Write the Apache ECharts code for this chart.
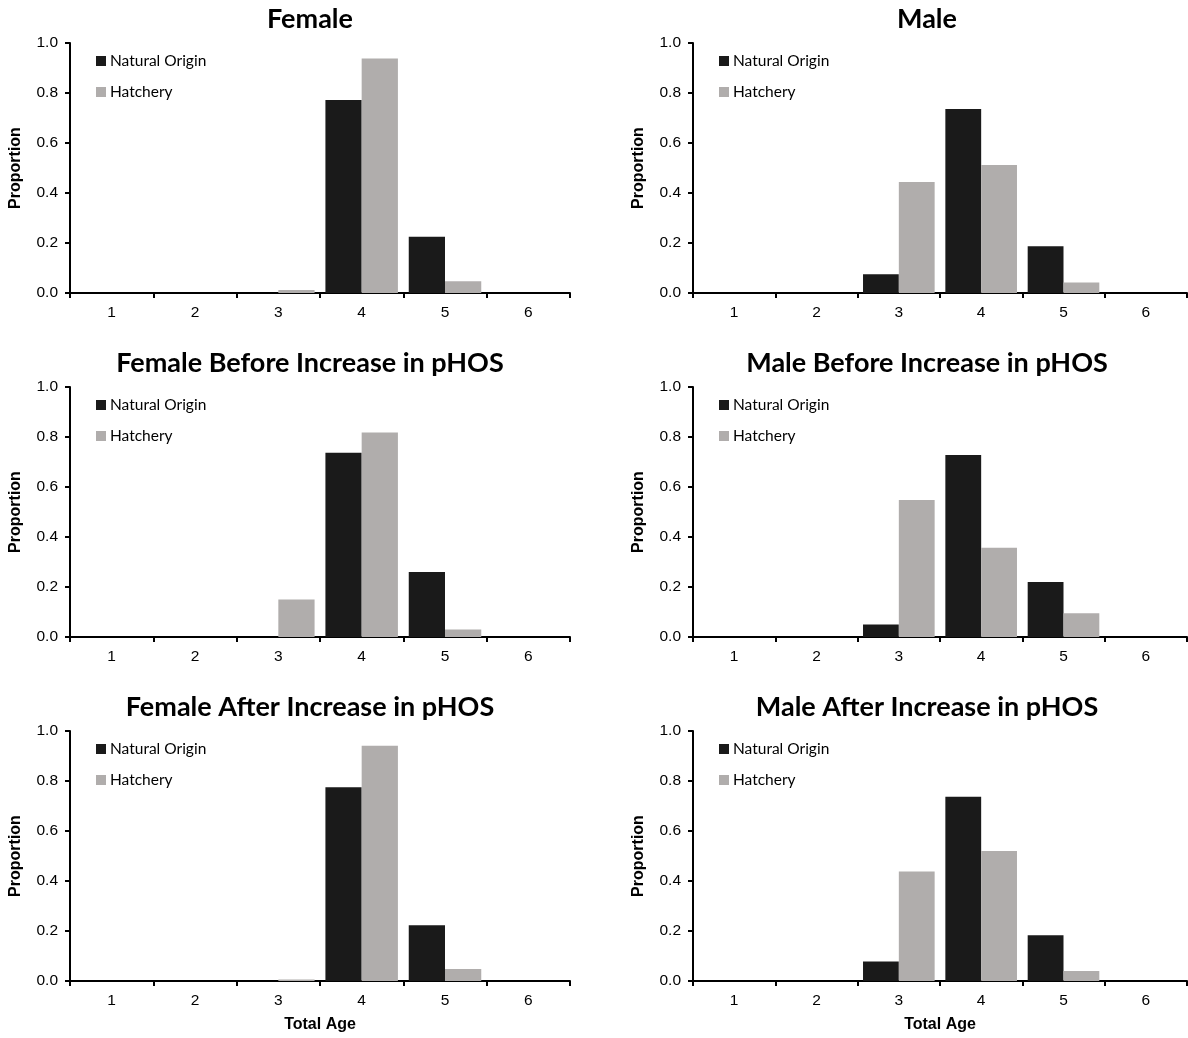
<!DOCTYPE html>
<html>
<head>
<meta charset="utf-8">
<script src="https://cdn.jsdelivr.net/npm/echarts@6/dist/echarts.min.js"></script>
<style>
html,body{margin:0;padding:0;background:#fff;}
#c{width:1188px;height:1038px;}
</style>
</head>
<body>
<div id="c"></div>
<script>
const categories = ['1','2','3','4','5','6'];
const yTicks = [0, 0.2, 0.4, 0.6, 0.8, 1.0];
const seriesNames = ['Natural Origin', 'Hatchery'];
const panelTitles = ['Female', 'Male', 'Female Before Increase in pHOS', 'Male Before Increase in pHOS', 'Female After Increase in pHOS', 'Male After Increase in pHOS'];

const femaleNatural = [0, 0, 0, 0.772, 0.225, 0];
const femaleHatchery = [0, 0, 0.012, 0.938, 0.047, 0];
const maleNatural = [0, 0, 0.075, 0.736, 0.187, 0];
const maleHatchery = [0, 0, 0.444, 0.512, 0.042, 0];
const femaleBeforeNatural = [0, 0, 0, 0.737, 0.26, 0];
const femaleBeforeHatchery = [0, 0, 0.15, 0.818, 0.03, 0];
const maleBeforeNatural = [0, 0, 0.05, 0.728, 0.22, 0];
const maleBeforeHatchery = [0, 0, 0.548, 0.357, 0.095, 0];
const femaleAfterNatural = [0, 0, 0, 0.775, 0.223, 0];
const femaleAfterHatchery = [0, 0, 0.006, 0.941, 0.048, 0];
const maleAfterNatural = [0, 0, 0.078, 0.737, 0.183, 0];
const maleAfterHatchery = [0, 0, 0.438, 0.52, 0.04, 0];

const panelData = [
  [femaleNatural, femaleHatchery],
  [maleNatural, maleHatchery],
  [femaleBeforeNatural, femaleBeforeHatchery],
  [maleBeforeNatural, maleBeforeHatchery],
  [femaleAfterNatural, femaleAfterHatchery],
  [maleAfterNatural, maleAfterHatchery]
];

const colors = ['#1a1a1a', '#b0adac'];
const colLeft = [70, 693];
const colWidth = [500, 494];
const titleX = [305, 922];
const rowTop = [43, 387, 731];
const gridH = 250;

const chart = echarts.init(document.getElementById('c'), null, {renderer: 'canvas'});

const grids = [], xAxes = [], yAxes = [], series = [], titles = [], legends = [];
for (let i = 0; i < 6; i++) {
  const col = i % 2, row = Math.floor(i / 2);
  grids.push({left: colLeft[col], top: rowTop[row], width: colWidth[col], height: gridH, containLabel: false});
  titles.push({
    text: panelTitles[i], left: titleX[col], top: rowTop[row] - 43 + 1,
    textAlign: 'center',
    textStyle: {fontFamily: 'Lato', fontWeight: 'bold', fontSize: 27, color: '#000'}
  });
  xAxes.push({
    type: 'category', gridIndex: i, data: categories, boundaryGap: true,
    axisLine: {lineStyle: {color: '#000', width: 2}},
    axisTick: {show: true, inside: false, length: 5, alignWithLabel: false, lineStyle: {color: '#000', width: 2}},
    axisLabel: {color: '#000', fontFamily: 'Liberation Sans', fontSize: 15.5, margin: 12},
    name: row === 2 ? 'Total Age' : '', nameLocation: 'middle', nameGap: 36,
    nameTextStyle: {fontFamily: 'Liberation Sans', fontWeight: 'bold', fontSize: 16, color: '#000'}
  });
  yAxes.push({
    type: 'value', gridIndex: i, min: 0, max: 1, interval: 0.2,
    axisLine: {show: true, lineStyle: {color: '#000', width: 2}},
    axisTick: {show: true, inside: false, length: 5, lineStyle: {color: '#000', width: 2}},
    splitLine: {show: false},
    axisLabel: {color: '#000', fontFamily: 'Liberation Sans', fontSize: 15.5, margin: 12, formatter: v => v.toFixed(1)},
    name: 'Proportion', nameLocation: 'middle', nameRotate: 90, nameGap: 46,
    nameTextStyle: {fontFamily: 'Liberation Sans', fontWeight: 'bold', fontSize: 16, color: '#000'}
  });
  for (let s = 0; s < 2; s++) {
    series.push({
      type: 'bar', name: seriesNames[s], xAxisIndex: i, yAxisIndex: i,
      data: panelData[i][s], barGap: '0%', barCategoryGap: '13%',
      itemStyle: {color: colors[s]}, animation: false
    });
  }
  legends.push({
    orient: 'vertical', left: colLeft[col] + 26, top: rowTop[row] + 8, padding: 0,
    itemWidth: 10, itemHeight: 10, itemGap: 11, icon: 'rect',
    data: seriesNames,
    textStyle: {fontFamily: 'Lato', fontSize: 15.5, color: '#000', lineHeight: 20, padding: [0, 0, 0, -1]}
  });
}

chart.setOption({
  animation: false,
  backgroundColor: '#fff',
  color: colors,
  title: titles,
  legend: legends,
  grid: grids,
  xAxis: xAxes,
  yAxis: yAxes,
  series: series
});
</script>
</body>
</html>
